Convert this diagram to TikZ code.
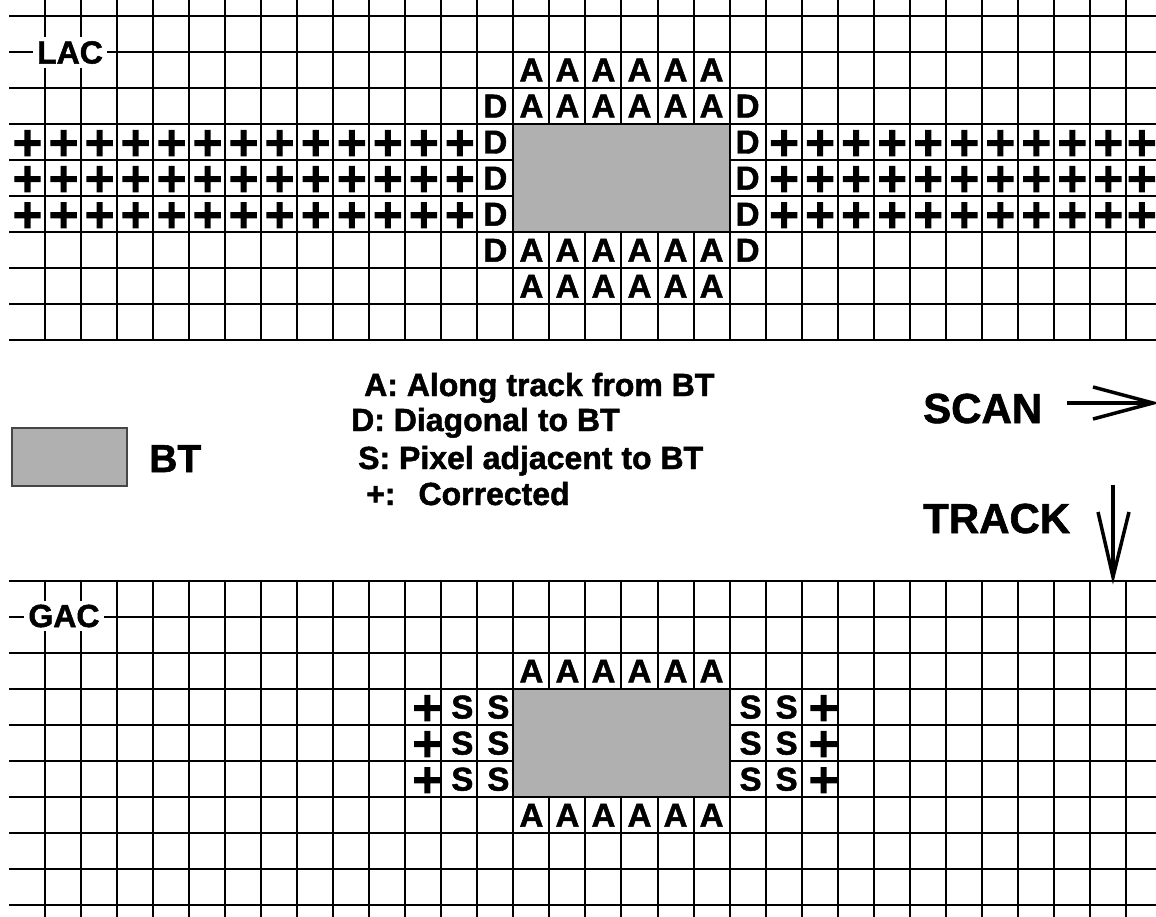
\documentclass[tikz,border=0pt]{standalone}
\usepackage{fontspec}
\setmainfont{Liberation Sans}
\newfontfamily\hvb{Liberation Sans Bold}[FakeBold=1.5]
\newfontfamily\plusfont{DejaVu Sans Bold}[FakeBold=3.5]
\definecolor{btgray}{RGB}{176,176,176}
\definecolor{rimgray}{RGB}{70,70,70}
\tikzset{
  gl/.style={line width=2pt, draw=black},
  cellA/.style={font={\hvb\fontsize{33}{36}\selectfont}, inner sep=0pt},
  cellP/.style={font={\plusfont\fontsize{40}{42}\selectfont}, inner sep=0pt},
  gridlbl/.style={font={\hvb\fontsize{32}{36}\selectfont}, fill=white, inner sep=4pt},
  legendtxt/.style={font={\hvb\fontsize{32}{36}\selectfont}, anchor=base west, inner sep=0pt},
  bigtxt/.style={font={\hvb\fontsize{42}{46}\selectfont}, anchor=base west, inner sep=0pt},
  arr/.style={line width=3.5pt, line join=miter},
}
\begin{document}
\begin{tikzpicture}[x=1pt,y=-1pt]
\useasboundingbox (0,0) rectangle (1156,917);
% ---------------- top grid (LAC)
\foreach \k in {0,...,30} \draw[gl] ({45+36.03*\k},0) -- ({45+36.03*\k},341);
\foreach \k in {0,...,9} \draw[gl] (9,{16+36.05*\k}) -- (1156,{16+36.05*\k});
\draw[gl, fill=btgray] (513.4,124.15) rectangle (729.6,232.3);
\foreach \r in {1,2,6,7} \foreach \c in {14,...,19}
  \node[cellA] (tA-\r-\c) at ({27+36.03*\c},{34+36.05*\r}) {A};
\foreach \r in {2,...,6} {
  \node[cellA] (tDl-\r) at ({27+36.03*13},{34+36.05*\r}) {D};
  \node[cellA] (tDr-\r) at ({27+36.03*20},{34+36.05*\r}) {D};
}
\foreach \r in {3,4,5} {
  \foreach \c in {0,...,12,21,22,...,30}
    \node[cellP] (tP-\r-\c) at ({27.5+36.03*\c},{35+36.05*\r}) {+};
  \node[cellP] (tP-\r-31) at ({25+36.03*31},{35+36.05*\r}) {+};
}
\node[gridlbl] (lac) at (70,52.5) {LAC};
% ---------------- bottom grid (GAC)
\foreach \k in {0,...,30} \draw[gl] ({45+36.03*\k},581) -- ({45+36.03*\k},917);
\foreach \k in {0,...,9} \draw[gl] (9,{581+36.05*\k}) -- (1156,{581+36.05*\k});
\draw[gl, fill=btgray] (513.4,689.15) rectangle (729.6,797.3);
\foreach \r in {2,6} \foreach \c in {14,...,19}
  \node[cellA] (bA-\r-\c) at ({27+36.03*\c},{599+36.05*\r}) {A};
\foreach \r in {3,4,5} {
  \foreach \c in {12,13,20,21}
    \node[cellA, xshift=3pt] (bS-\r-\c) at ({27+36.03*\c},{599+36.05*\r}) {S};
  \node[cellP, xshift=4pt] (bPl-\r) at ({27+36.03*11},{600+36.05*\r}) {+};
  \node[cellP, xshift=4pt] (bPr-\r) at ({27+36.03*22},{600+36.05*\r}) {+};
}
\node[gridlbl] (gac) at (64,616) {GAC};
% ---------------- legend
\draw[draw=rimgray, line width=1.3pt, fill=btgray] (12,428) rectangle (127,486);
\node[legendtxt, font={\hvb\fontsize{39}{42}\selectfont}] (bt) at (149,472) {BT};
\node[legendtxt] (legA) at (364,396) {A: Along track from BT};
\node[legendtxt] (legD) at (351,431) {D: Diagonal to BT};
\node[legendtxt] (legS) at (358,469) {S: Pixel adjacent to BT};
\node[legendtxt] (legP) at (366,505) {+:\hspace*{23pt}Corrected};
% ---------------- direction arrows
\node[bigtxt] (scan) at (923,423) {SCAN};
\node[bigtxt] (track) at (923,533) {TRACK};
\coordinate (scanS) at (1067,403);
\coordinate (scanT) at (1153,403);
\coordinate (scanH1) at (1093,387);
\coordinate (scanH2) at (1093,419);
\draw[arr] (scanS) -- (scanT);
\draw[arr] (scanH1) -- (scanT) -- (scanH2);
\coordinate (trS) at (1113,485);
\coordinate (trT) at (1113,577);
\coordinate (trH1) at (1098,512);
\coordinate (trH2) at (1129,512);
\draw[arr] (trS) -- (trT);
\draw[arr] (trH1) -- (trT) -- (trH2);
\end{tikzpicture}
\end{document}
